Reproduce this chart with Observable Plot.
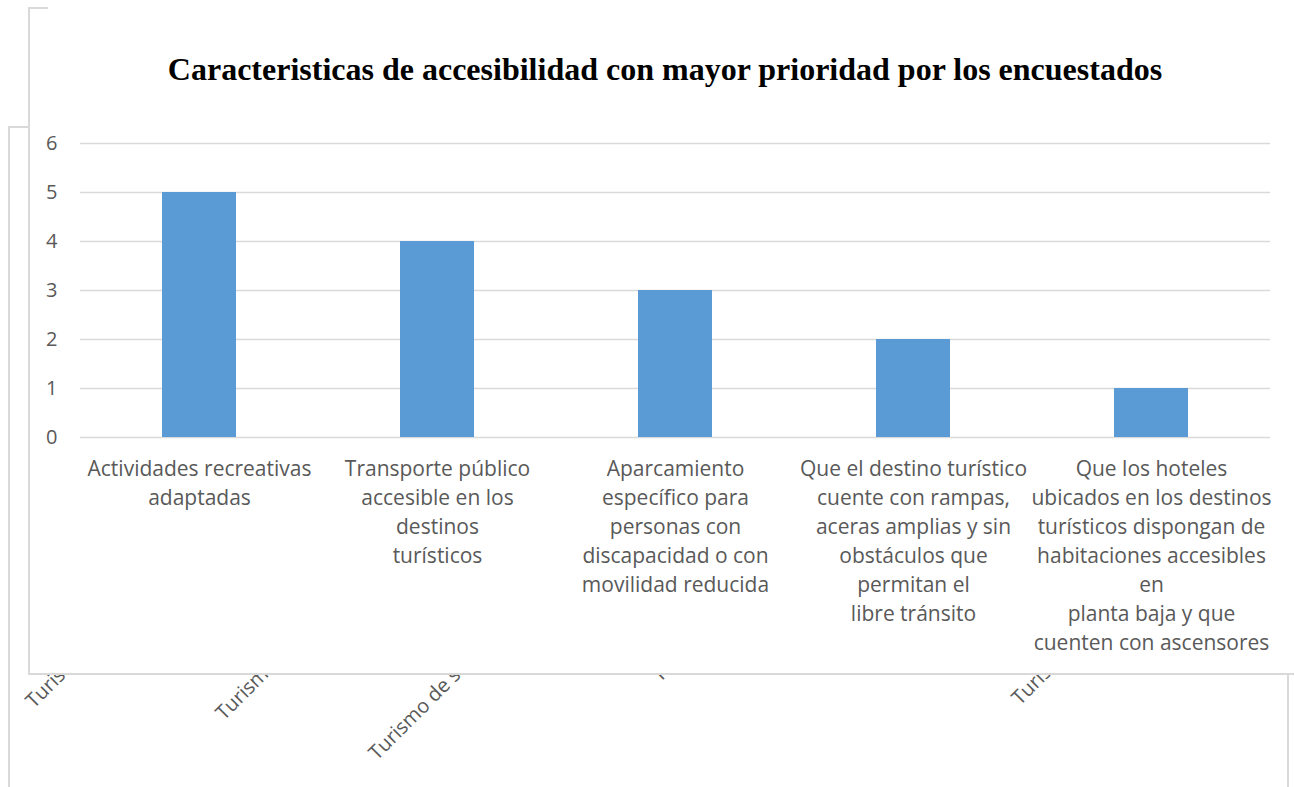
<!DOCTYPE html>
<html>
<head>
<meta charset="utf-8">
<script src="https://cdn.jsdelivr.net/npm/d3@7"></script>
<script src="https://cdn.jsdelivr.net/npm/@observablehq/plot@0.6"></script>
<style>
  html, body { margin: 0; padding: 0; background: #fff; overflow: hidden; }
  #page { position: relative; width: 1294px; height: 787px; overflow: hidden; font-family: "Open Sans", Lato, sans-serif; }
  .frame-line { position: absolute; background: #d9d9d9; }
  .ghost { position: absolute; font-size: 20px; color: #595959; white-space: nowrap; transform-origin: 0 0; transform: rotate(-45deg); line-height: 1; }
  #inner { position: absolute; left: 28px; top: 8px; width: 1300px; height: 667px; background: #fff; border-left: 2px solid #d9d9d9; border-bottom: 2px solid #d9d9d9; box-sizing: border-box; }
  #title { position: absolute; left: 28px; width: 1274px; top: 53px; text-align: center; font-family: "Liberation Serif", "Times New Roman", serif; font-weight: bold; font-size: 32px; line-height: 32px; color: #000; white-space: nowrap; }
  #chart { position: absolute; left: 0; top: 0; }
</style>
</head>
<body>
<div id="page">
  <!-- background (underlying) frame -->
  <div class="frame-line" style="left:8px; top:126px; width:2px; height:661px;"></div>
  <div class="frame-line" style="left:8px; top:126px; width:22px; height:2px;"></div>
  <div class="frame-line" style="left:1287px; top:675px; width:2px; height:112px;"></div>
  <!-- partially hidden rotated labels from the underlying chart -->
  <span class="ghost" style="left:22px; top:697px;">Turismo cultural</span>
  <span class="ghost" style="left:212px; top:709px;">Turismo natural</span>
  <span class="ghost" style="left:365px; top:749px;">Turismo de salud</span>
  <span class="ghost" style="left:648px; top:671px;">Turismo rural</span>
  <span class="ghost" style="left:1008px; top:694px;">Turismo urbano</span>
  <!-- front chart box -->
  <div id="inner"></div>
  <div class="frame-line" style="left:28px; top:7px; width:20px; height:2px;"></div>
  <div id="title">Caracteristicas de accesibilidad con mayor prioridad por los encuestados</div>
  <div id="chart"></div>
</div>
<script>
const categories = [
  "Actividades recreativas\nadaptadas",
  "Transporte público\naccesible en los\ndestinos\nturísticos",
  "Aparcamiento\nespecífico para\npersonas con\ndiscapacidad o con\nmovilidad reducida",
  "Que el destino turístico\ncuente con rampas,\naceras amplias y sin\nobstáculos que\npermitan el\nlibre tránsito",
  "Que los hoteles\nubicados en los destinos\nturísticos dispongan de\nhabitaciones accesibles\nen\nplanta baja y que\ncuenten con ascensores"
];
const values = [5, 4, 3, 2, 1];
const yTicks = [0, 1, 2, 3, 4, 5, 6];

const data = categories.map((c, i) => ({category: c, value: values[i]}));

const chart = Plot.plot({
  width: 1294,
  height: 675,
  marginLeft: 80,
  marginRight: 24,
  marginTop: 143,
  marginBottom: 238,
  style: {background: "transparent", color: "#595959", fontFamily: "'Open Sans', Lato, sans-serif", fontSize: "20px", overflow: "visible"},
  x: {domain: categories, paddingInner: 0.69, paddingOuter: 0.345, label: null},
  y: {domain: [0, 6], label: null},
  marks: [
    Plot.ruleY(yTicks, {stroke: "#d9d9d9", strokeWidth: 1.5}),
    Plot.barY(data, {x: "category", y: "value", fill: "#5b9bd5"}),
    Plot.axisY({ticks: yTicks, tickFormat: d3.format("d"), tickSize: 0, tickPadding: 23, fontSize: 20, label: null}),
    Plot.axisX({tickSize: 0, tickPadding: 18, fontSize: 21, lineHeight: 1.381, label: null})
  ]
});
document.getElementById("chart").appendChild(chart);
</script>
</body>
</html>
